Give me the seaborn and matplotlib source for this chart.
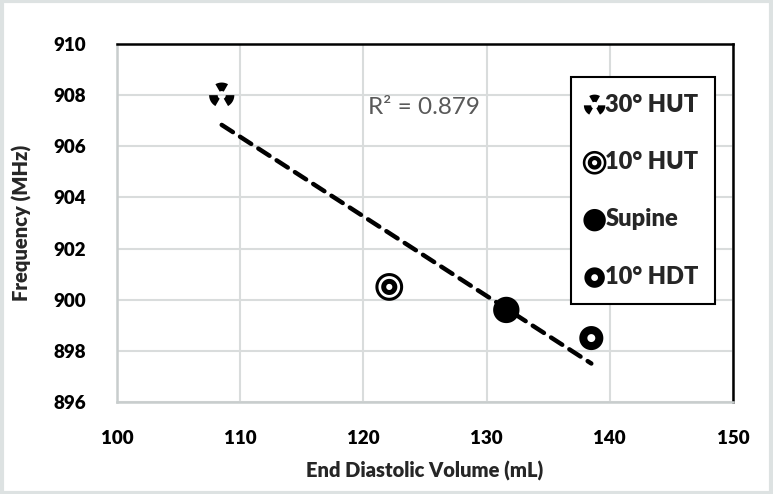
import numpy as np
import matplotlib
matplotlib.use("Agg")
import matplotlib.pyplot as plt
from matplotlib.path import Path
from matplotlib.patches import Rectangle
import seaborn as sns

# ---- data ----
conditions = ["30° HUT", "10° HUT", "Supine", "10° HDT"]
edv = [108.5, 122.1, 131.6, 138.5]
freq = [908.0, 900.5, 899.6, 898.5]
r2_label = "R² = 0.879"
x_ticks = [100, 110, 120, 130, 140, 150]
y_ticks = [896, 898, 900, 902, 904, 906, 908, 910]

sns.set_theme(style="white")
plt.rcParams["font.family"] = ["Lato", "DejaVu Sans"]

BOLD = "heavy"


def circle_pts(r, n=64, reverse=False):
    t = np.linspace(0, 2 * np.pi, n, endpoint=False)
    if reverse:
        t = t[::-1]
    return np.column_stack([r * np.cos(t), r * np.sin(t)])


def rings_path(radii):
    verts, codes = [], []
    for i, r in enumerate(radii):
        pts = circle_pts(r, reverse=(i % 2 == 1))
        verts += list(pts) + [pts[0]]
        codes += [Path.MOVETO] + [Path.LINETO] * (len(pts) - 1) + [Path.CLOSEPOLY]
    return Path(np.array(verts), codes)


def trefoil_path(r_in=0.32, r_out=1.0):
    verts, codes = [], []
    for c in (90, 210, 330):
        a = np.radians(np.linspace(c - 30, c + 30, 20))
        outer = np.column_stack([r_out * np.cos(a), r_out * np.sin(a)])
        inner = np.column_stack([r_in * np.cos(a[::-1]), r_in * np.sin(a[::-1])])
        pts = np.vstack([outer, inner])
        verts += list(pts) + [pts[0]]
        codes += [Path.MOVETO] + [Path.LINETO] * (len(pts) - 1) + [Path.CLOSEPOLY]
    return Path(np.array(verts), codes)


markers = {
    "30° HUT": trefoil_path(),
    "10° HUT": rings_path([1.0, 0.78, 0.58, 0.22]),
    "Supine": rings_path([1.0]),
    "10° HDT": rings_path([1.0, 0.33]),
}
sizes = {"30° HUT": 330, "10° HUT": 400, "Supine": 360, "10° HDT": 300}

fig = plt.figure(figsize=(7.73, 4.94), dpi=100)
ax = fig.add_axes([117 / 773, 1 - 402 / 494, (733 - 117) / 773, (402 - 44) / 494])

sns.regplot(x=edv, y=freq, ax=ax, scatter=False, ci=None, truncate=True,
            line_kws=dict(color="black", lw=3.2, dashes=(3.0, 1.9), dash_capstyle="round", zorder=2))

for c, xv, yv in zip(conditions, edv, freq):
    sns.scatterplot(x=[xv], y=[yv], ax=ax, marker=markers[c], s=sizes[c],
                    color="black", edgecolor="none", linewidth=0, label=c, zorder=3)

ax.set_xlim(100, 150)
ax.set_ylim(896, 910)
ax.set_xticks(x_ticks)
ax.set_yticks(y_ticks)
ax.set_xticklabels([str(v) for v in x_ticks], fontsize=13.5, fontweight=BOLD, color="black")
ax.set_yticklabels([str(v) for v in y_ticks], fontsize=13.5, fontweight=BOLD, color="black")
ax.tick_params(axis="x", length=0, pad=20)
ax.tick_params(axis="y", length=0, pad=22)
ax.grid(True, color="#d9dcdc", lw=1.5)
ax.set_axisbelow(True)

for s in ("top", "right"):
    ax.spines[s].set_color("black")
    ax.spines[s].set_linewidth(1.8)
for s in ("left", "bottom"):
    ax.spines[s].set_color("#c8cdcd")
    ax.spines[s].set_linewidth(1.8)

ax.set_xlabel("End Diastolic Volume (mL)", fontsize=14.5, fontweight=BOLD, labelpad=10)
ax.set_ylabel("Frequency (MHz)", fontsize=14.5, fontweight=BOLD, labelpad=16)

ax.text(120.4, 907.5, r2_label, fontsize=17.5, color="#595959", ha="left", va="center")

leg = ax.legend(loc="upper left", bbox_to_anchor=((571 - 117) / 616, (402 - 77) / 358),
                frameon=True, fancybox=False, edgecolor="black", framealpha=1,
                prop=dict(size=17, weight=BOLD), markerscale=0.85,
                labelspacing=1.5, handletextpad=0.15, handlelength=0.6,
                borderpad=0.7, borderaxespad=0)
leg.get_frame().set_linewidth(1.5)

fig.patches.append(Rectangle((0.002, 0.003), 0.996, 0.994, transform=fig.transFigure,
                             fill=False, edgecolor="#dde2e2", lw=3))

fig.savefig("out.png", dpi=100)
